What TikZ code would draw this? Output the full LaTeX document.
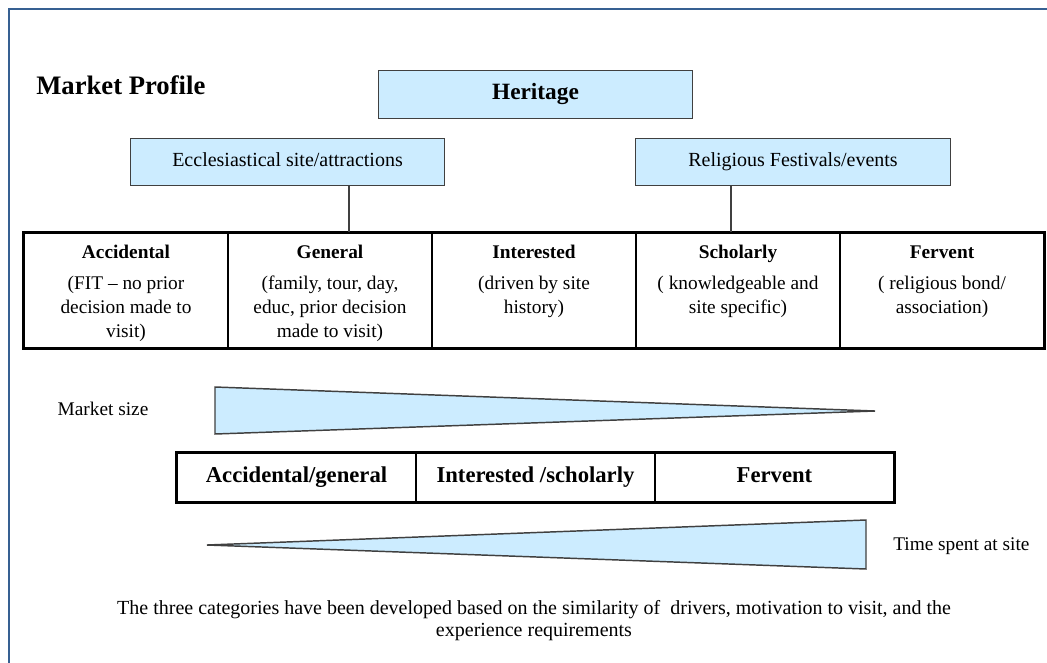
\documentclass[tikz,border=0pt]{standalone}
\usepackage{fontspec}
\setmainfont{Liberation Serif}
\usetikzlibrary{positioning}
\definecolor{boxblue}{RGB}{204,236,255}
\definecolor{frameblue}{RGB}{54,96,146}
\definecolor{edgegray}{RGB}{64,64,64}

\begin{document}
\begin{tikzpicture}[x=0.75pt,y=-0.75pt,
    topbox/.style={draw=edgegray,line width=0.9pt,fill=boxblue,minimum width=236pt,minimum height=35.5pt,inner sep=0pt,text height=10.5pt,text depth=3.5pt,font=\fontsize{15}{18}\selectfont},
    cell/.style={draw,line width=0.8pt,minimum width=153pt,minimum height=86.25pt,inner sep=0pt},
    celltext/.style={anchor=north,align=center,inner sep=0pt,font=\fontsize{14.5}{18}\selectfont},
    lowcell/.style={draw,line width=0.8pt,minimum width=179.25pt,minimum height=36.75pt,inner sep=0pt,text height=12pt,text depth=4pt,font=\fontsize{17}{20}\selectfont\bfseries},
    taper/.style={draw=edgegray,line width=1.1pt,fill=boxblue,line join=miter},
    tableframe/.style={line width=2.2pt},
    sidetext/.style={font=\fontsize{14.5}{17}\selectfont}]

    \useasboundingbox (0,0) rectangle (1047,662);

    % Rahmen
    \draw[frameblue,line width=1.6pt] (9,690) -- (9,9) -- (1070,9);

    % Titel und Kopfboxen
    \node[anchor=west,inner sep=0pt,font=\fontsize{20}{24}\selectfont\bfseries] (title) at (36,85) {Market Profile};
    \node[topbox,text height=12pt,text depth=4pt,font=\fontsize{17.5}{20}\selectfont\bfseries] (heritage) at (535.5,94.5) {Heritage};
    \node[topbox] (eccl) at (287.5,162) {Ecclesiastical site/attractions};
    \node[topbox] (relig) at (793,162) {Religious Festivals/events};

    % Tabelle der Besuchertypen
    \node[cell] (acc) at (126,290.5) {};
    \node[cell] (gen) at (330,290.5) {};
    \node[cell] (inte) at (534,290.5) {};
    \node[cell] (scho) at (738,290.5) {};
    \node[cell] (ferv) at (942,290.5) {};
    \draw[tableframe] (acc.north west) rectangle (ferv.south east);

    \node[celltext] (acctext) at ([yshift=-6.75pt]acc.north) {\strut\textbf{Accidental}\\[5pt](FIT -- no prior\\decision made to\\visit)};
    \node[celltext] (gentext) at ([yshift=-6.75pt]gen.north) {\strut\textbf{General}\\[5pt](family, tour, day,\\educ, prior decision\\made to visit)};
    \node[celltext] (intetext) at ([yshift=-6.75pt]inte.north) {\strut\textbf{Interested}\\[5pt](driven by site\\history)};
    \node[celltext] (schotext) at ([yshift=-6.75pt]scho.north) {\strut\textbf{Scholarly}\\[5pt]( knowledgeable and\\site specific)};
    \node[celltext] (fervtext) at ([yshift=-6.75pt]ferv.north) {\strut\textbf{Fervent}\\[5pt]( religious bond/\\association)};

    % Verbindungen
    \coordinate (eccldrop) at (349,200);
    \coordinate (religdrop) at (731,200);
    \draw[edgegray,line width=0.9pt] (eccl.south -| eccldrop) -- (gen.north -| eccldrop);
    \draw[edgegray,line width=0.9pt] (relig.south -| religdrop) -- (scho.north -| religdrop);

    % Marktgroesse
    \node[sidetext] (msize) at (103,409) {Market size};
    \draw[taper] (215,387) -- (875,411) -- (215,434) -- cycle;

    % Drei Kategorien
    \node[lowcell] (lowa) at (296.5,477.5) {Accidental/general};
    \node[lowcell] (lowb) at (535.5,477.5) {Interested /scholarly};
    \node[lowcell] (lowc) at (774.5,477.5) {Fervent};
    \draw[tableframe] (lowa.north west) rectangle (lowc.south east);

    % Verweildauer
    \draw[taper] (207,545) -- (866,520) -- (866,569) -- cycle;
    \node[sidetext,anchor=west,inner sep=0pt] (tspent) at (893,546) {Time spent at site};

    % Fussnote
    \node[align=center,font=\fontsize{15}{16.5}\selectfont] (caption) at (534,621) {The three categories have been developed based on the similarity of \ drivers, motivation to visit, and the\\experience requirements};

\end{tikzpicture}
\end{document}
